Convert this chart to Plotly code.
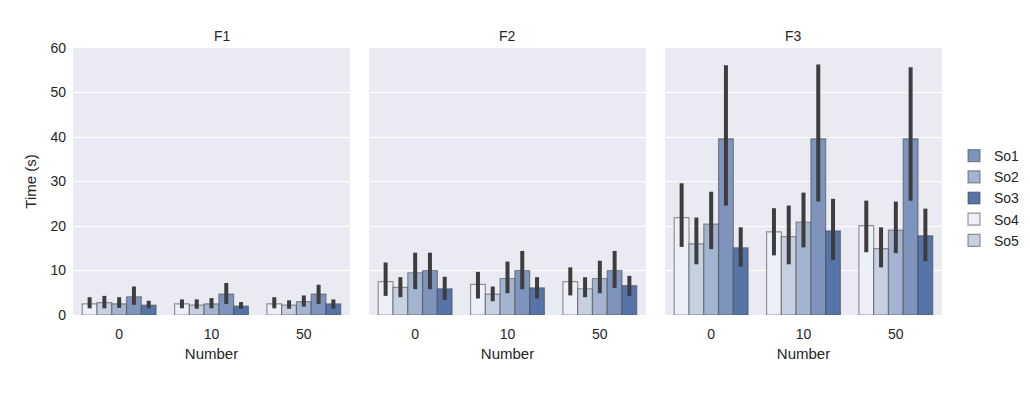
import plotly.graph_objects as go

panels = ["F1", "F2", "F3"]
numbers = ["0", "10", "50"]
# drawing order within a group (left to right)
series = ["So4", "So5", "So2", "So1", "So3"]
colors = {"So1": "#7e94bd", "So2": "#a3b3d0", "So3": "#5774a8", "So4": "#edf0f7", "So5": "#c6d0e0"}
legend_rank = {"So1": 1, "So2": 2, "So3": 3, "So4": 4, "So5": 5}

# mean values [panel][series] -> per number (0, 10, 50)
means = {
    "F1": {"So4": [2.5, 2.5, 2.5], "So5": [2.8, 2.2, 2.2], "So2": [2.5, 2.5, 3.0], "So1": [4.1, 4.7, 4.7], "So3": [2.2, 2.0, 2.5]},
    "F2": {"So4": [7.5, 6.9, 7.5], "So5": [6.2, 4.7, 5.9], "So2": [9.5, 8.2, 8.2], "So1": [10.0, 10.0, 10.0], "So3": [5.9, 6.1, 6.6]},
    "F3": {"So4": [21.9, 18.7, 20.1], "So5": [16.0, 17.6, 14.9], "So2": [20.4, 20.9, 19.1], "So1": [39.6, 39.6, 39.6], "So3": [15.1, 18.9, 17.8]},
}
ci_low = {
    "F1": {"So4": [1.5, 1.5, 1.5], "So5": [1.5, 1.4, 1.4], "So2": [1.6, 1.5, 1.9], "So1": [2.3, 2.5, 2.5], "So3": [1.5, 1.4, 1.4]},
    "F2": {"So4": [4.3, 3.7, 4.4], "So5": [4.0, 3.1, 4.0], "So2": [5.8, 4.9, 4.9], "So1": [5.8, 5.8, 6.1], "So3": [3.4, 3.7, 4.3]},
    "F3": {"So4": [15.3, 13.4, 14.1], "So5": [11.4, 11.4, 10.7], "So2": [14.8, 15.2, 13.9], "So1": [24.6, 25.5, 25.7], "So3": [10.9, 12.4, 12.1]},
}
ci_high = {
    "F1": {"So4": [4.0, 3.5, 4.0], "So5": [4.3, 3.5, 3.3], "So2": [4.0, 3.8, 4.4], "So1": [6.4, 7.2, 6.8], "So3": [3.2, 2.9, 3.5]},
    "F2": {"So4": [11.8, 9.7, 10.7], "So5": [8.5, 6.4, 8.5], "So2": [14.0, 12.0, 12.2], "So1": [14.0, 14.4, 14.4], "So3": [8.6, 8.5, 8.8]},
    "F3": {"So4": [29.6, 24.0, 25.7], "So5": [21.9, 24.6, 19.7], "So2": [27.7, 27.5, 25.5], "So1": [56.1, 56.3, 55.7], "So3": [19.7, 26.1, 23.9]},
}
y_ticks = [0, 10, 20, 30, 40, 50, 60]

W, H = 1014, 382
OFF = 8  # page body margin
def fx(px):
    return (px - OFF) / W
def fy(py):
    return 1 - (py - OFF) / H

domains = [[fx(73), fx(350)], [fx(369), fx(646)], [fx(665), fx(942)]]
ydom = [fy(315), fy(48)]

font = "Liberation Sans, Arial, sans-serif"
fig = go.Figure()

for pi, p in enumerate(panels):
    xa = "x" if pi == 0 else f"x{pi + 1}"
    ya = "y" if pi == 0 else f"y{pi + 1}"
    for s in series:
        m = means[p][s]
        lo = ci_low[p][s]
        hi = ci_high[p][s]
        fig.add_trace(go.Bar(
            x=numbers, y=m, name=s, xaxis=xa, yaxis=ya,
            marker=dict(color=colors[s], line=dict(color="rgba(70,70,70,0.55)", width=1.2)),
            error_y=dict(type="data", symmetric=False,
                         array=[h - v for h, v in zip(hi, m)],
                         arrayminus=[v - l for v, l in zip(m, lo)],
                         color="#3d3d3d", thickness=4, width=0),
            offsetgroup=s, legendgroup=s, showlegend=(pi == 0),
            legendrank=legend_rank[s],
        ))

layout = dict(
    width=W, height=H,
    margin=dict(l=0, r=0, t=0, b=0, autoexpand=False),
    paper_bgcolor="white",
    barmode="group", bargap=0.2, bargroupgap=0,
    font=dict(family=font, size=14, color="#262626"),
    legend=dict(x=fx(954), y=fy(198), yanchor="middle", xanchor="left",
                font=dict(size=14, color="#262626"), tracegroupgap=0,
                bgcolor="rgba(0,0,0,0)", itemwidth=30),
    showlegend=True,
)
for pi, p in enumerate(panels):
    xk = "xaxis" if pi == 0 else f"xaxis{pi + 1}"
    yk = "yaxis" if pi == 0 else f"yaxis{pi + 1}"
    layout[xk] = dict(domain=domains[pi], anchor="y" if pi == 0 else f"y{pi + 1}",
                      type="category", range=[-0.5, 2.5], showgrid=False, zeroline=False,
                      showline=False, ticks="", tickfont=dict(size=14, color="#262626"),
                      automargin=False, ticklabelstandoff=9,
                      title=dict(text="Number", font=dict(size=15, color="#262626"), standoff=7))
    layout[yk] = dict(domain=ydom, anchor="x" if pi == 0 else f"x{pi + 1}",
                      range=[0, 60], tickvals=y_ticks, showgrid=True, gridcolor="white",
                      gridwidth=1.2, zeroline=False, showline=False, ticks="",
                      showticklabels=(pi == 0), tickfont=dict(size=14, color="#262626"),
                      automargin=False, ticklabelstandoff=6)
    if pi > 0:
        layout[yk]["matches"] = "y"
layout["yaxis"]["title"] = dict(text="Time (s)", font=dict(size=15, color="#262626"), standoff=10)
layout["plot_bgcolor"] = "#eaeaf2"

annotations = []
for pi, p in enumerate(panels):
    annotations.append(dict(text=p, x=(domains[pi][0] + domains[pi][1]) / 2, y=fy(36),
                            xref="paper", yref="paper", showarrow=False,
                            font=dict(size=14, color="#262626"), yanchor="middle"))
layout["annotations"] = annotations
fig.update_layout(**layout)
fig.write_html("out.html")
